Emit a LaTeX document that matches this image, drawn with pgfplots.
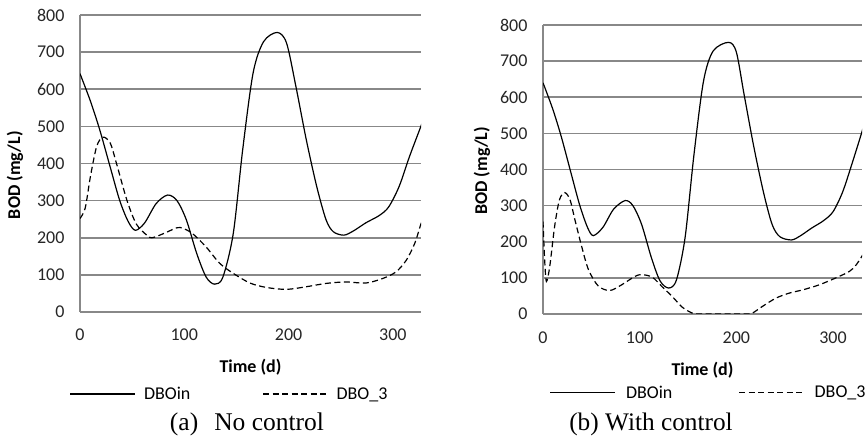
\documentclass[border=0pt]{standalone}
\usepackage{fontspec}
\setmainfont{Carlito}
\newfontfamily\capfont{Liberation Serif}
\usepackage{pgfplots}
\pgfplotsset{compat=1.18}
\definecolor{gridgray}{HTML}{888888}
\pgfplotsset{
 mystyle/.style={
  scale only axis,
  anchor=south west,
  xmin=0, ymin=0, ymax=800,
  xtick={0,100,200,300},
  ytick={0,100,...,800},
  axis lines*=left,
  x axis line style={draw=none},
  y axis line style={gridgray, line width=1.3pt},
  major tick length=0pt,
  ymajorgrids,
  major grid style={gridgray, line width=1.6pt},
  /pgf/number format/assume math mode=true,
  tick label style={font=\fontsize{18}{20}\selectfont, text=black!85},
  xticklabel style={yshift=-13.3pt},
  yticklabel style={xshift=-12pt},
  every axis y label/.style={rotate=90, anchor=center, font=\bfseries\fontsize{18}{20}\selectfont},
  every axis x label/.style={at={(axis description cs:0.5,0)}, anchor=center, font=\bfseries\fontsize{18}{20}\selectfont},
  legend style={draw=none, fill=none, font=\fontsize{18}{20}\selectfont, legend columns=2, anchor=center,
    nodes={inner xsep=0pt},
    /tikz/every odd column/.append style={column sep=8pt}},
  legend image code/.code={\draw[#1] (0pt,0pt) -- (65pt,0pt);},
 },
 solidline/.style={black, solid, no marks, line width=1.2pt, smooth, tension=0.5},
 dashedline/.style={black, no marks, line width=1.2pt, smooth, tension=0.5, dash pattern=on 6pt off 3.5pt},
}
\begin{document}
\begin{tikzpicture}
\useasboundingbox (0,0) rectangle (865pt,441pt);
% ---------------- (a) No control
\begin{axis}[mystyle,
  at={(80pt,129pt)}, width=341pt, height=297pt, xmax=327,
  xlabel={Time (d)}, ylabel={BOD (mg/L)},
  xlabel style={yshift=-55pt},
  ylabel style={at={(axis description cs:-0.1906,0.461)}},
  legend style={at={(axis description cs:0.436,-0.276)},
    /tikz/every even column/.append style={column sep=72pt}},
]
\addplot[solidline] coordinates {(0,642)(10,568)(19,490)(29,390)(38,301)(46,245)(53,220)(62,240)(73,292)(84,315)(93,300)(102,248)(112,157)(121,94)(129,75)(137,94)(147,212)(156,437)(166,644)(176,728)(189,753)(198,725)(207,608)(217,464)(227,338)(236,248)(243,216)(253,207)(262,218)(274,240)(287,260)(296,283)(306,338)(316,419)(327,501)(332,540)};
\addlegendentry{DBOin}
\addplot[dashedline] coordinates {(0,252)(5,280)(10,365)(16,446)(22,471)(29,455)(35,400)(45,301)(54,237)(64,207)(69,200)(80,211)(93,227)(99,225)(108,211)(121,175)(134,131)(147,104)(163,78)(179,66)(198,61)(217,68)(236,77)(255,81)(274,78)(290,90)(303,108)(313,140)(321,185)(327,238)(332,280)};
\addlegendentry{DBO\_3}
\end{axis}
\node[font=\capfont\fontsize{25.5}{28}\selectfont, anchor=center] at (247pt,17pt) {(a)\hspace{16pt}No control};
% ---------------- (b) With control
\begin{axis}[mystyle,
  at={(543pt,127pt)}, width=319pt, height=289pt, xmax=330,
  xlabel={Time (d)}, ylabel={BOD (mg/L)},
  xlabel style={yshift=-56pt},
  ylabel style={at={(axis description cs:-0.191,0.495)}},
  xticklabel style={yshift=-1pt},
  legend style={at={(axis description cs:0.5163,-0.273)},
    /tikz/every even column/.append style={column sep=66pt},
    /tikz/every odd column/.append style={column sep=10pt}},
]
\addplot[solidline] coordinates {(0,640)(10,568)(19,490)(29,390)(38,301)(46,240)(52,217)(62,240)(73,290)(85,314)(93,300)(102,248)(112,157)(121,92)(130,72)(138,94)(147,212)(156,437)(166,644)(176,728)(192,752)(200,725)(208,608)(218,464)(228,338)(237,248)(245,214)(257,205)(266,216)(278,238)(290,258)(300,283)(310,338)(320,419)(330,505)(334,545)};
\addlegendentry{DBOin}
\addplot[dashedline] coordinates {(0,256)(1.7,150)(3.5,90)(7,132)(12,242)(17,316)(22.5,336)(28,316)(33,261)(40,187)(47,123)(57,78)(69,65)(81.5,81)(95,104)(102,109)(113,102)(123,76)(133.5,49)(144,19)(154,3)(161,0)(190,0)(212,0)(217,3)(227,21)(241,44)(255,58)(269,67)(286,81)(303,100)(317,118)(324,136)(332,169)};
\addlegendentry{DBO\_3}
\end{axis}
\node[font=\capfont\fontsize{25.3}{28}\selectfont, anchor=center] at (651pt,17pt) {(b) With control};
\end{tikzpicture}
\end{document}
